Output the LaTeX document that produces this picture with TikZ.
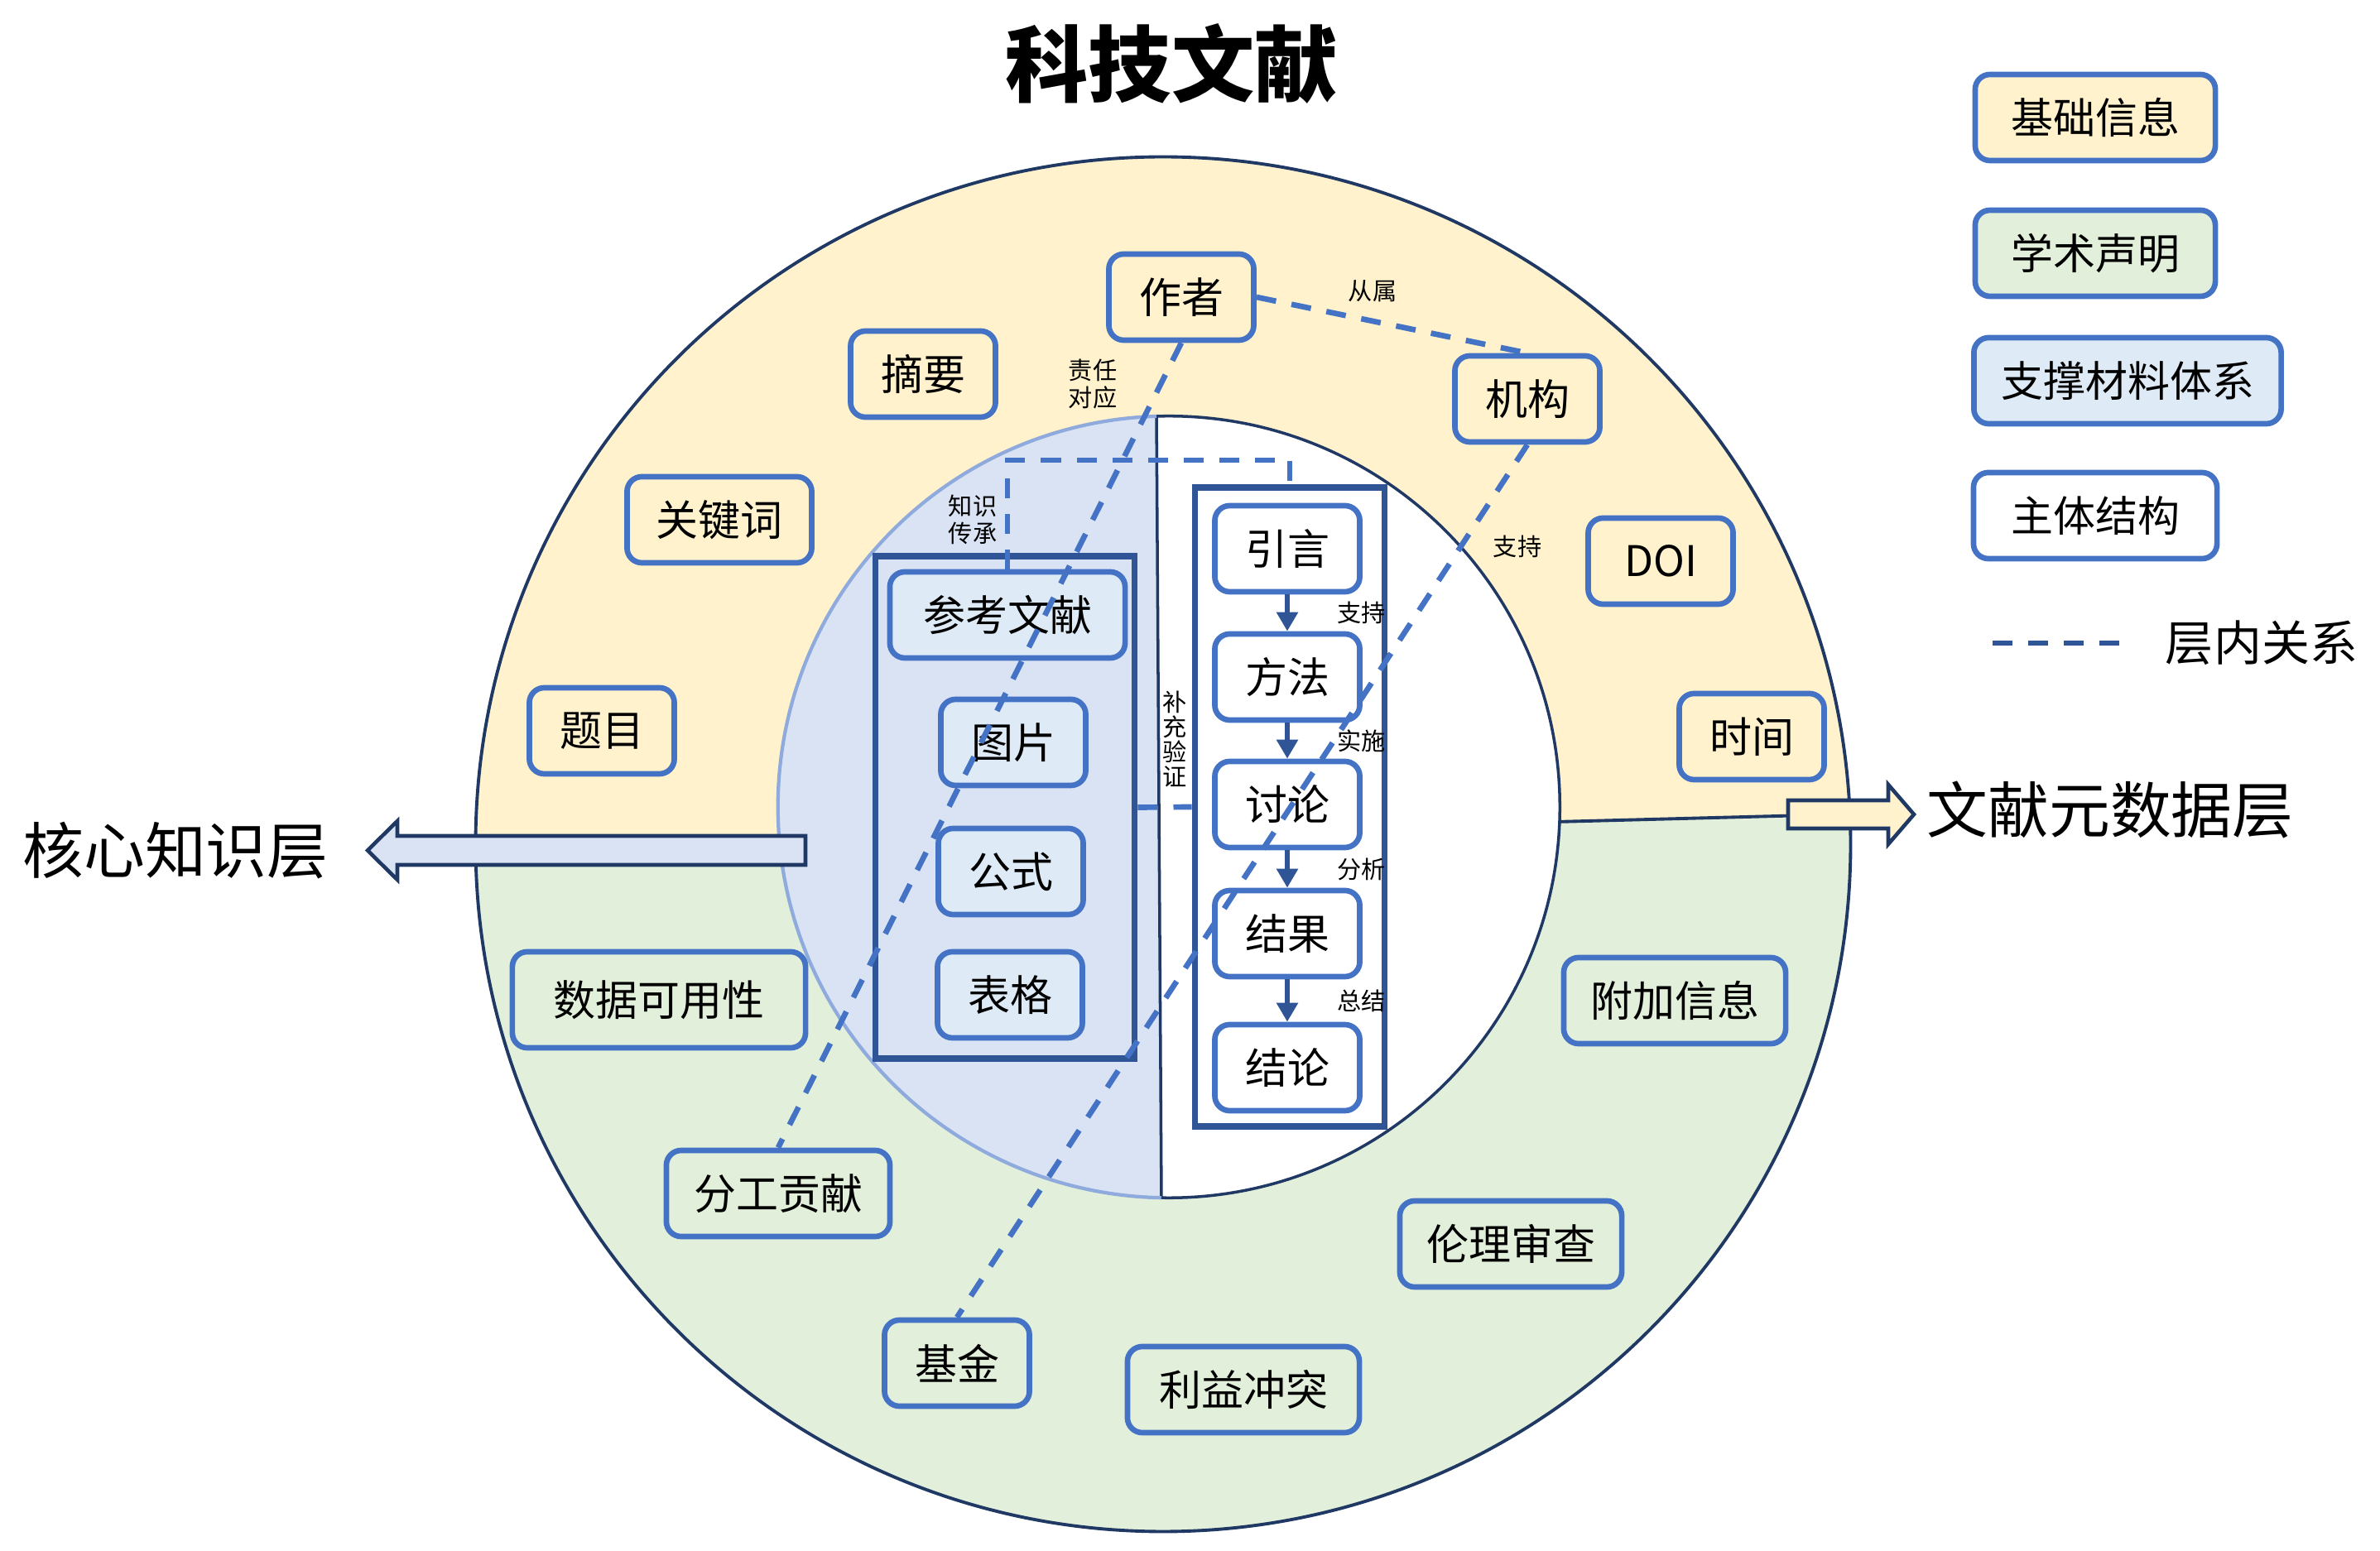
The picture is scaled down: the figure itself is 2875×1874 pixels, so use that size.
\documentclass[tikz,border=0pt]{standalone}
\usepackage{fontspec}
\setmainfont{Noto Sans CJK SC}
\usetikzlibrary{arrows.meta}

\definecolor{baseyellow}{HTML}{FFF2CC}
\definecolor{declgreen}{HTML}{E2EFDA}
\definecolor{suppblue}{HTML}{DAE3F3}
\definecolor{boxblue}{HTML}{DEEBF7}
\definecolor{lineblue}{HTML}{4472C4}
\definecolor{darkblue}{HTML}{2F5597}
\definecolor{navy}{HTML}{1F3864}
\definecolor{paleblue}{HTML}{8FAADC}

\begin{document}
\begin{tikzpicture}[%
    x=0.01cm,y=-0.01cm,
    infobox/.style={draw=lineblue,line width=1.9pt,rounded corners=0.18cm,
      minimum width=1.75cm,minimum height=1.04cm,inner sep=0pt,
      font=\fontsize{14.5}{16}\selectfont},
    basebox/.style={infobox,fill=baseyellow},
    declbox/.style={infobox,fill=declgreen},
    suppbox/.style={infobox,fill=boxblue},
    bodybox/.style={infobox,fill=white},
    groupframe/.style={draw=darkblue,line width=2.2pt,inner sep=0pt},
    rellink/.style={lineblue,line width=1.9pt,dash pattern=on 0.24cm off 0.19cm},
    rellabel/.style={inner sep=0pt,align=center,text=black,font=\fontsize{8.3}{9.5}\selectfont},
    flowarrow/.style={darkblue,line width=1.8pt,-{Triangle[width=0.25cm,length=0.23cm]}},
    flowlabel/.style={rellabel,anchor=west,xshift=0.57cm},
    layerarrow/.style={draw=navy,line width=1.3pt},
    layerlabel/.style={font=\fontsize{21}{24}\selectfont}
  ]
		\useasboundingbox (0,0) rectangle (2875,1874);

		% outer ring
		\begin{scope}
			\clip (1405,1020) circle[radius=8.3cm];
			\fill[baseyellow] (500,150) rectangle (2300,1900);
			\fill[declgreen] (500,1029) -- (2300,982) -- (2300,1900) -- (500,1900) -- cycle;
			\draw[navy,line width=1.1pt] (500,1029) -- (2300,982);
		\end{scope}
		\draw[navy,line width=1.1pt] (1405,1020) circle[radius=8.3cm];

		% inner circle
		\coordinate (divtop) at (1396.7,450);
		\coordinate (divbot) at (1403.3,1500);
		\begin{scope}
			\clip (1412,975) circle[radius=4.72cm];
			\fill[white] (800,400) rectangle (2000,1550);
			\fill[suppblue] (divtop) -- (divbot) -- (800,1500) -- (800,450) -- cycle;
			\draw[navy,line width=1pt] (divtop) -- (divbot);
		\end{scope}
		\begin{scope}
			\clip (divtop) -- (divbot) -- (800,1500) -- (800,450) -- cycle;
			\draw[paleblue,line width=1.2pt] (1412,975) circle[radius=4.72cm];
		\end{scope}
		\begin{scope}
			\clip (divtop) -- (divbot) -- (2000,1500) -- (2000,450) -- cycle;
			\draw[navy,line width=1pt] (1412,975) circle[radius=4.72cm];
		\end{scope}

		% layer arrows
		\draw[layerarrow,fill=suppblue] (973,1010) -- (480,1010) -- (480,992) -- (444,1027.5)
			-- (480,1063) -- (480,1045) -- (973,1045) -- cycle;
		\draw[layerarrow,fill=baseyellow] (2160,967) -- (2281,967) -- (2281,948) -- (2312,984)
			-- (2281,1020) -- (2281,1001) -- (2160,1001) -- cycle;
		\node at (212,1028) [layerlabel] (corelbl) {核心知识层};
		\node at (2549,979) [layerlabel] (metalbl) {文献元数据层};

		\node at (1415,77) [font=\fontsize{28.5}{32}\selectfont\bfseries] (title) {科技文献};

		% metadata boxes
		\node at (1115,452) [basebox] (abstract) {摘要};
		\node at (869,628) [basebox,minimum width=2.23cm] (keywords) {关键词};
		\node at (727,883) [basebox] (titlebox) {题目};
		\node at (2006,678) [basebox] (doi) {DOI};
		\node at (2116,890) [basebox] (time) {时间};

		\node at (796,1208) [declbox,minimum width=3.54cm,minimum height=1.16cm] (avail) {数据可用性};
		\node at (2023,1209) [declbox,minimum width=2.68cm] (extra) {附加信息};
		\node at (940,1442) [declbox,minimum width=2.70cm] (contrib) {分工贡献};
		\node at (1825,1503) [declbox,minimum width=2.68cm] (ethics) {伦理审查};
		\node at (1156,1647) [declbox] (fund) {基金};
		\node at (1502,1679) [declbox,minimum width=2.80cm] (conflict) {利益冲突};

		% supporting material
		\node at (1214,975.5) [groupframe,minimum width=3.13cm,minimum height=6.06cm] (supframe) {};
		\node at (1217,743) [suppbox,minimum width=2.84cm] (ref) {参考文献};
		\node at (1224,897) [suppbox] (figure) {图片};
		\node at (1221,1053) [suppbox] (formula) {公式};
		\node at (1220,1202) [suppbox] (table) {表格};

		% main structure
		\node at (1558,975) [groupframe,minimum width=2.29cm,minimum height=7.71cm] (mainframe) {};
		\node at (1555,1290) [bodybox] (concl) {结论};
		\node at (1555,1128) [bodybox] (result) {结果}
			edge[flowarrow] node[flowlabel] (sumlbl) {总结} (concl);
		\node at (1555,972) [bodybox] (discuss) {讨论}
			edge[flowarrow] node[flowlabel] (anlbl) {分析} (result);
		\node at (1555,818) [bodybox] (method) {方法}
			edge[flowarrow] node[flowlabel] (implbl) {实施} (discuss);
		\node at (1555,663) [bodybox] (intro) {引言}
			edge[flowarrow] node[flowlabel] (suplbl) {支持} (method);

		\node at (1845,482) [basebox] (inst) {机构};
		\node at (1427,359) [basebox] (author) {作者};

		% relations
		\coordinate (kt) at (1558,556);
		\draw[rellink] (ref.north) |- (kt) -- (mainframe.north);
		\draw[rellink] (supframe.east) -- (mainframe.west);
		\draw[rellink] (author.south) -- (contrib.north);
		\draw[rellink] (author.east) -- (inst.north);
		\draw[rellink] (inst.south) -- (fund.north);

		\node at (1658,352) [rellabel] (affil) {从属};
		\node at (1320,464) [rellabel] (resp) {责任\\对应};
		\node at (1833,660) [rellabel] (instsup) {支持};
		\node at (1175,628) [rellabel] (inherit) {知识\\传承};
		\node at (1419,893) [rellabel,font=\fontsize{8.3}{8.6}\selectfont] (verify) {补\\充\\验\\证};

		% legend
		\node at (2531,142) [basebox,minimum width=2.90cm] (legbase) {基础信息};
		\node at (2531,306) [declbox,minimum width=2.90cm] (legdecl) {学术声明};
		\node at (2570,460) [suppbox,minimum width=3.71cm] (legsupp) {支撑材料体系};
		\node at (2531,623) [bodybox,minimum width=2.94cm] (legbody) {主体结构};
		\coordinate (legA) at (2407,777);
		\coordinate (legB) at (2563,777);
		\draw[rellink,darkblue] (legA) -- (legB);
		\node at (2732,777) [font=\fontsize{16.5}{18}\selectfont] (legrel) {层内关系};
\end{tikzpicture}
\end{document}
